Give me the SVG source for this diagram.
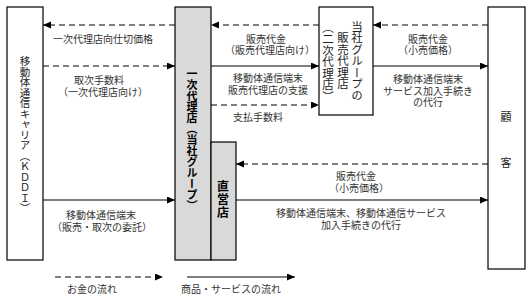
<svg xmlns="http://www.w3.org/2000/svg" width="530" height="304" viewBox="0 0 530 304">
<defs>
<style>
.box{fill:#fff;stroke:#000;stroke-width:1.2}
.gray{fill:#d9d9d9;stroke:#000;stroke-width:1.2}
.ln{fill:none;stroke:#000;stroke-width:1.2}
.dash{stroke-dasharray:6 4}
.lbl{font-family:"Liberation Sans","Noto Sans CJK JP","Noto Sans CJK SC",sans-serif;font-size:10px;fill:#333;text-anchor:middle}
.vt{font-family:"Noto Sans CJK JP","Noto Sans CJK SC",sans-serif;fill:#222;writing-mode:vertical-rl;text-anchor:middle}
.bold{font-weight:bold;fill:#000}
.hz{font-family:"Noto Sans CJK JP","Noto Sans CJK SC",sans-serif;font-size:11px;fill:#222;text-anchor:middle}
</style>
<marker id="ah" markerUnits="userSpaceOnUse" markerWidth="9" markerHeight="8" refX="8" refY="3.5" orient="auto">
<path d="M0,0 L8,3.5 L0,7 z" fill="#000"/>
</marker>
</defs>
<rect width="530" height="304" fill="#fff"/>

<g id="carrier">
<rect class="box" x="7" y="7" width="36" height="253"/>
<text class="vt" x="25" y="135" font-size="10.5">移動体通信キャリア（ＫＤＤＩ）</text>
</g>

<g id="primary-agent">
<rect class="gray" x="175" y="7" width="36" height="253"/>
<text class="vt bold" x="192" y="140" font-size="11">一次代理店（当社グループ）</text>
</g>

<g id="direct-store">
<rect class="gray" x="211" y="142" width="25" height="118"/>
<text class="vt bold" x="223" y="200" font-size="12" letter-spacing="1">直営店</text>
</g>

<g id="secondary-agent">
<rect class="box" x="319" y="7" width="54" height="108"/>
<text class="vt" x="357" y="61" font-size="11.5">当社グループの</text>
<text class="vt" x="343" y="61" font-size="11.5">販売代理店</text>
<text class="vt" x="328" y="62" font-size="11.5">（二次代理店）</text>
</g>

<g id="customer">
<rect class="box" x="488" y="7" width="37" height="262"/>
<text class="hz" x="506" y="121">顧</text>
<text class="hz" x="506" y="167">客</text>
</g>

<g id="connectors">
<path class="ln dash" d="M175,25 H43" marker-end="url(#ah)"/>
<path class="ln dash" d="M43,66 H175" marker-end="url(#ah)"/>
<path class="ln" d="M43,200 H175" marker-end="url(#ah)"/>
<path class="ln dash" d="M319,25 H211" marker-end="url(#ah)"/>
<path class="ln" d="M211,66 H319" marker-end="url(#ah)"/>
<path class="ln dash" d="M211,105 H319" marker-end="url(#ah)"/>
<path class="ln dash" d="M488,25 H373" marker-end="url(#ah)"/>
<path class="ln" d="M373,66 H488" marker-end="url(#ah)"/>
<path class="ln dash" d="M488,164 H236" marker-end="url(#ah)"/>
<path class="ln" d="M236,200 H488" marker-end="url(#ah)"/>
</g>

<g id="labels">
<text class="lbl" x="103" y="43">一次代理店向仕切価格</text>
<text class="lbl"><tspan x="99" y="84">取次手数料</tspan><tspan x="103" y="95.5">（一次代理店向け）</tspan></text>
<text class="lbl"><tspan x="101" y="219">移動体通信端末</tspan><tspan x="102" y="230.5">（販売・取次の委託）</tspan></text>
<text class="lbl"><tspan x="266" y="42.5">販売代金</tspan><tspan x="270" y="54">（販売代理店向け）</tspan></text>
<text class="lbl"><tspan x="268" y="82">移動体通信端末</tspan><tspan x="268" y="93.5">販売代理店の支援</tspan></text>
<text class="lbl" x="258" y="121">支払手数料</text>
<text class="lbl"><tspan x="428" y="42.5">販売代金</tspan><tspan x="428" y="54">（小売価格）</tspan></text>
<text class="lbl"><tspan x="428" y="83">移動体通信端末</tspan><tspan x="428" y="94.5">サービス加入手続き</tspan><tspan x="428" y="106">の代行</tspan></text>
<text class="lbl"><tspan x="356" y="180">販売代金</tspan><tspan x="359" y="191.5">（小売価格）</tspan></text>
<text class="lbl"><tspan x="361" y="217">移動体通信端末、移動体通信サービス</tspan><tspan x="361" y="228.5">加入手続きの代行</tspan></text>
</g>

<g id="legend">
<path class="ln dash" d="M55,277 H163" marker-end="url(#ah)"/>
<path class="ln" d="M187,277 H295" marker-end="url(#ah)"/>
<text class="lbl" x="92" y="293">お金の流れ</text>
<text class="lbl" x="231" y="293">商品・サービスの流れ</text>
</g>
</svg>
